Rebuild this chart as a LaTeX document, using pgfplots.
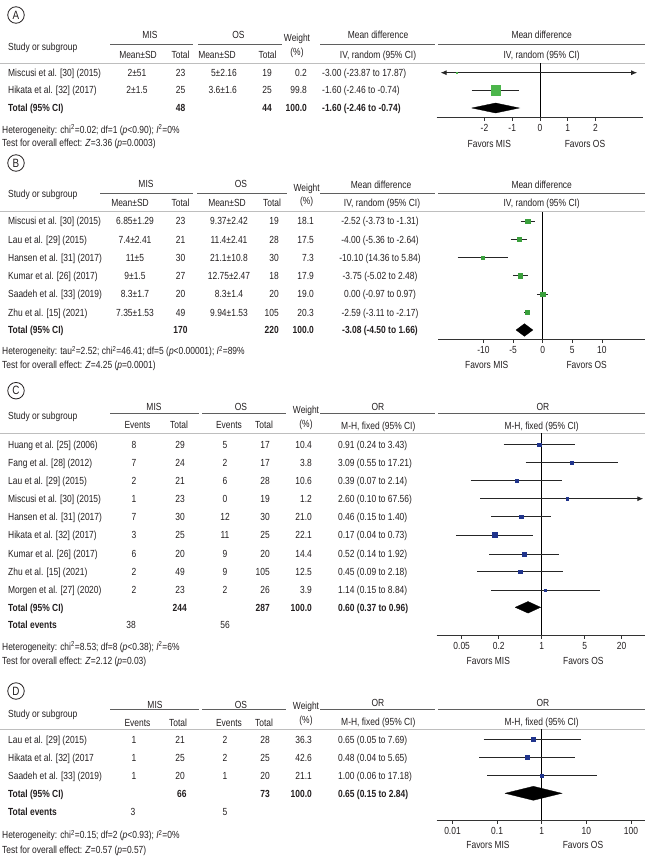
\documentclass[border=0pt]{standalone}
\usepackage{fontspec}
\setmainfont{Liberation Sans}[FakeStretch=0.82]
\usepackage{pgfplots}
\pgfplotsset{compat=1.18}
\usetikzlibrary{arrows.meta}
\definecolor{txt}{RGB}{35,31,32}
\definecolor{grA}{RGB}{76,181,75}
\definecolor{grB}{RGB}{58,160,60}
\definecolor{navy}{RGB}{32,52,140}
\definecolor{hl}{RGB}{95,95,95}
\definecolor{ll}{RGB}{190,190,190}
\newcommand\fs{\fontsize{10.3}{11.5}\selectfont}
\tikzset{tx/.style={font=\fs, text=txt, inner sep=0pt}}
\newcommand\TL[3]{\node[tx,anchor=base west] at (#1pt,{-(#2pt)-3.7pt}) {#3};}
\newcommand\TC[3]{\node[tx,anchor=base] at (#1pt,{-(#2pt)-3.7pt}) {#3};}
\newcommand\TR[3]{\node[tx,anchor=base east] at (#1pt,{-(#2pt)-3.7pt}) {#3};}
\newcommand\HL[3]{\draw[hl, line width=0.8pt] (#1pt,-#3pt) -- (#2pt,-#3pt);}
\newcommand\LL[1]{\draw[ll, line width=1pt] (0pt,-#1pt) -- (645pt,-#1pt);}
\newcommand\CIRC[2]{\node[draw=txt, circle, line width=0.8pt, minimum size=16.5pt, inner sep=0pt, text=txt, font=\fontsize{12}{12}\selectfont] at (16pt,-#1pt) {#2};}
\pgfplotsset{forest/.style={scale only axis, anchor=south west,
  axis x line*=bottom, axis y line=none,
  x axis line style={-, draw=black!80, line width=0.8pt},
  tick align=outside, major tick length=3.5pt,
  major tick style={black!80, line width=0.8pt}, clip=false,
  minor xtick={}, xminorticks=false, minor tick length=0pt,
  minor tick style={draw=none}, subtickwidth=0pt,
  xticklabel style={font=\fs, text=txt}},
  ci/.style={black!85, line width=0.9pt, mark=none},
  sq/.style={only marks, mark=square*, mark options={draw=#1, fill=#1}},
  dia/.style={fill=black, draw=black, mark=none, line width=0.3pt}}
\begin{document}
\begin{tikzpicture}
\path[use as bounding box] (0pt,0pt) rectangle (653pt,-856pt);
% ================= A =================
\CIRC{15}{A}
\TL{8}{46.7}{Study or subgroup}
\TC{150}{35}{MIS} \TC{238.5}{35}{OS}
\TC{297}{38.3}{Weight} \TC{297}{51.7}{(\%)}
\TC{138}{55}{Mean±SD} \TC{180.5}{55}{Total} \TC{217}{55}{Mean±SD} \TC{267.5}{55}{Total}
\TC{378}{35}{Mean difference} \TC{378}{55}{IV, random (95\% CI)}
\TC{541.7}{35}{Mean difference} \TC{541.7}{55}{IV, random (95\% CI)}
\HL{110}{193}{44} \HL{198}{282}{44} \HL{320}{435}{44} \HL{438}{645}{44}
\LL{63.3}
\TL{8}{72.7}{Miscusi et al. [30] (2015)} \TC{137}{72.7}{2±51} \TC{180.5}{72.7}{23} \TR{237}{72.7}{5±2.16} \TR{272}{72.7}{19} \TR{307}{72.7}{0.2} \TL{322}{72.7}{-3.00 (-23.87 to 17.87)}
\TL{8}{90.3}{Hikata et al. [32] (2017)} \TC{137}{90.3}{2±1.5} \TC{180.5}{90.3}{25} \TR{237}{90.3}{3.6±1.6} \TR{272}{90.3}{25} \TR{307}{90.3}{99.8} \TL{322}{90.3}{-1.60 (-2.46 to -0.74)}
\TL{8}{108}{\textbf{Total (95\% CI)}} \TC{180.5}{108}{\textbf{48}} \TR{272}{108}{\textbf{44}} \TR{307}{108}{\textbf{100.0}} \TL{322}{108}{\textbf{-1.60 (-2.46 to -0.74)}}
\TL{2}{129.5}{Heterogeneity: chi\textsuperscript{2}=0.02; df=1 (\textit{p}<0.90); \textit{I}\textsuperscript{2}=0\%}
\TL{2}{143}{Test for overall effect: \textit{Z}=3.36 (\textit{p}=0.0003)}
\TC{489.3}{143.3}{Favors MIS} \TC{585}{143.3}{Favors OS}
\begin{axis}[forest, at={(436.7pt,-117.3pt)}, width=206.6pt, height=54pt,
  xmin=-3.72, xmax=3.72, ymin=-117.3, ymax=-63.3,
  xtick={-2,-1,0,1,2}, xticklabels={-2,-1,0,1,2}]
\draw[black, line width=0.8pt] (axis cs:0,-117.3) -- (axis cs:0,-63.3);
\addplot[ci, {Latex[length=6pt,width=5pt]}-{Latex[length=6pt,width=5pt]}] coordinates {(-3.58,-72.7) (3.50,-72.7)};
\addplot[sq=grA, mark size=0.5] coordinates {(-3.00,-72.7)};
\addplot[ci] coordinates {(-2.46,-90.3) (-0.74,-90.3)};
\addplot[sq=grA, mark size=4.6] coordinates {(-1.60,-90.3)};
\addplot[dia] coordinates {(-2.46,-108) (-1.60,-103) (-0.74,-108) (-1.60,-113) (-2.46,-108)};
\end{axis}
% ================= B =================
\CIRC{163}{B}
\TL{8}{194}{Study or subgroup}
\TC{146}{184}{MIS} \TC{241}{184}{OS}
\TC{306.7}{187.3}{Weight} \TC{306.7}{200.7}{(\%)}
\TC{130}{202.3}{Mean±SD} \TC{180.5}{202.3}{Total} \TC{227}{202.3}{Mean±SD} \TC{272}{202.3}{Total}
\TC{381}{184.3}{Mean difference} \TC{382}{202.7}{IV, random (95\% CI)}
\TC{541.7}{184.3}{Mean difference} \TC{541.7}{202.7}{IV, random (95\% CI)}
\HL{100}{193}{193.3} \HL{197}{287}{193.3} \HL{320}{435}{193.3} \HL{438}{645}{193.3}
\LL{211.7}
\TL{8}{221}{Miscusi et al. [30] (2015)} \TC{135}{221}{6.85±1.29} \TC{180.5}{221}{23} \TC{229}{221}{9.37±2.42} \TR{279}{221}{19} \TR{314}{221}{18.1} \TC{380}{221}{-2.52 (-3.73 to -1.31)}
\TL{8}{239.3}{Lau et al. [29] (2015)} \TC{135}{239.3}{7.4±2.41} \TC{180.5}{239.3}{21} \TC{229}{239.3}{11.4±2.41} \TR{279}{239.3}{28} \TR{314}{239.3}{17.5} \TC{380}{239.3}{-4.00 (-5.36 to -2.64)}
\TL{8}{257.7}{Hansen et al. [31] (2017)} \TC{135}{257.7}{11±5} \TC{180.5}{257.7}{30} \TC{229}{257.7}{21.1±10.8} \TR{279}{257.7}{30} \TR{314}{257.7}{7.3} \TC{380}{257.7}{-10.10 (14.36 to 5.84)}
\TL{8}{275.7}{Kumar et al. [26] (2017)} \TC{135}{275.7}{9±1.5} \TC{180.5}{275.7}{27} \TC{229}{275.7}{12.75±2.47} \TR{279}{275.7}{18} \TR{314}{275.7}{17.9} \TC{380}{275.7}{-3.75 (-5.02 to 2.48)}
\TL{8}{294}{Saadeh et al. [33] (2019)} \TC{135}{294}{8.3±1.7} \TC{180.5}{294}{20} \TC{229}{294}{8.3±1.4} \TR{279}{294}{20} \TR{314}{294}{19.0} \TC{380}{294}{0.00 (-0.97 to 0.97)}
\TL{8}{312.3}{Zhu et al. [15] (2021)} \TC{135}{312.3}{7.35±1.53} \TC{180.5}{312.3}{49} \TC{229}{312.3}{9.94±1.53} \TR{279}{312.3}{105} \TR{314}{312.3}{20.3} \TC{380}{312.3}{-2.59 (-3.11 to -2.17)}
\TL{8}{330}{\textbf{Total (95\% CI)}} \TC{180.5}{330}{\textbf{170}} \TR{279}{330}{\textbf{220}} \TR{314}{330}{\textbf{100.0}} \TC{380}{330}{\textbf{-3.08 (-4.50 to 1.66)}}
\TL{2}{351}{Heterogeneity: tau\textsuperscript{2}=2.52; chi\textsuperscript{2}=46.41; df=5 (\textit{p}<0.00001); \textit{I}\textsuperscript{2}=89\%}
\TL{2}{364.5}{Test for overall effect: \textit{Z}=4.25 (\textit{p}=0.0001)}
\TC{486.7}{364.3}{Favors MIS} \TC{586.7}{364.3}{Favors OS}
\begin{axis}[forest, at={(438.3pt,-339.3pt)}, width=206.7pt, height=127.6pt,
  xmin=-17.63, xmax=17.28, ymin=-339.3, ymax=-211.7,
  xtick={-10,-5,0,5,10}, xticklabels={-10,-5,0,5,10}]
\draw[black, line width=0.8pt] (axis cs:0,-339.3) -- (axis cs:0,-211.7);
\addplot[ci] coordinates {(-3.73,-221) (-1.31,-221)};
\addplot[sq=grB, mark size=2.1] coordinates {(-2.52,-221)};
\addplot[ci] coordinates {(-5.36,-239.3) (-2.64,-239.3)};
\addplot[sq=grB, mark size=2.1] coordinates {(-4.00,-239.3)};
\addplot[ci] coordinates {(-14.36,-257.7) (-5.84,-257.7)};
\addplot[sq=grB, mark size=1.2] coordinates {(-10.10,-257.7)};
\addplot[ci] coordinates {(-5.02,-275.7) (-2.48,-275.7)};
\addplot[sq=grB, mark size=2.1] coordinates {(-3.75,-275.7)};
\addplot[ci] coordinates {(-0.97,-294) (0.97,-294)};
\addplot[sq=grB, mark size=2.2] coordinates {(0.00,-294)};
\addplot[ci] coordinates {(-3.11,-312.3) (-2.17,-312.3)};
\addplot[sq=grB, mark size=2.2] coordinates {(-2.59,-312.3)};
\addplot[dia] coordinates {(-4.50,-330) (-3.08,-323.7) (-1.66,-330) (-3.08,-336.3) (-4.50,-330)};
\end{axis}
% ================= C =================
\CIRC{390.7}{C}
\TL{8}{415.7}{Study or subgroup}
\TC{154}{406.7}{MIS} \TC{241}{406.7}{OS}
\TC{306}{410}{Weight} \TC{306}{424}{(\%)}
\TC{137.5}{425}{Events} \TC{179}{425}{Total} \TC{229}{425}{Events} \TC{264}{425}{Total}
\TC{378}{406.7}{OR} \TC{378.3}{426}{M-H, fixed (95\% CI)}
\TC{543}{406.7}{OR} \TC{541.7}{426}{M-H, fixed (95\% CI)}
\HL{110}{199}{413.3} \HL{202}{286}{413.3} \HL{320}{435}{413.3} \HL{438}{645}{413.3}
\LL{433.3}
\TL{8}{444.3}{Huang et al. [25] (2006)} \TC{134}{444.3}{8} \TR{185}{444.3}{29} \TC{225}{444.3}{5} \TR{270}{444.3}{17} \TR{312}{444.3}{10.4} \TL{338}{444.3}{0.91 (0.24 to 3.43)}
\TL{8}{462.7}{Fang et al. [28] (2012)} \TC{134}{462.7}{7} \TR{185}{462.7}{24} \TC{225}{462.7}{2} \TR{270}{462.7}{17} \TR{312}{462.7}{3.8} \TL{338}{462.7}{3.09 (0.55 to 17.21)}
\TL{8}{480.7}{Lau et al. [29] (2015)} \TC{134}{480.7}{2} \TR{185}{480.7}{21} \TC{225}{480.7}{6} \TR{270}{480.7}{28} \TR{312}{480.7}{10.6} \TL{338}{480.7}{0.39 (0.07 to 2.14)}
\TL{8}{498.7}{Miscusi et al. [30] (2015)} \TC{134}{498.7}{1} \TR{185}{498.7}{23} \TC{225}{498.7}{0} \TR{270}{498.7}{19} \TR{312}{498.7}{1.2} \TL{338}{498.7}{2.60 (0.10 to 67.56)}
\TL{8}{516.7}{Hansen et al. [31] (2017)} \TC{134}{516.7}{7} \TR{185}{516.7}{30} \TC{225}{516.7}{12} \TR{270}{516.7}{30} \TR{312}{516.7}{21.0} \TL{338}{516.7}{0.46 (0.15 to 1.40)}
\TL{8}{535}{Hikata et al. [32] (2017)} \TC{134}{535}{3} \TR{185}{535}{25} \TC{225}{535}{11} \TR{270}{535}{25} \TR{312}{535}{22.1} \TL{338}{535}{0.17 (0.04 to 0.73)}
\TL{8}{554}{Kumar et al. [26] (2017)} \TC{134}{554}{6} \TR{185}{554}{20} \TC{225}{554}{9} \TR{270}{554}{20} \TR{312}{554}{14.4} \TL{338}{554}{0.52 (0.14 to 1.92)}
\TL{8}{571.7}{Zhu et al. [15] (2021)} \TC{134}{571.7}{2} \TR{185}{571.7}{49} \TC{225}{571.7}{9} \TR{270}{571.7}{105} \TR{312}{571.7}{12.5} \TL{338}{571.7}{0.45 (0.09 to 2.18)}
\TL{8}{590}{Morgen et al. [27] (2020)} \TC{134}{590}{2} \TR{185}{590}{23} \TC{225}{590}{2} \TR{270}{590}{26} \TR{312}{590}{3.9} \TL{338}{590}{1.14 (0.15 to 8.84)}
\TL{8}{607.3}{\textbf{Total (95\% CI)}} \TR{187}{607.3}{\textbf{244}} \TR{270}{607.3}{\textbf{287}} \TR{312}{607.3}{\textbf{100.0}} \TL{338}{607.3}{\textbf{0.60 (0.37 to 0.96)}}
\TL{8}{625}{\textbf{Total events}} \TC{131}{625}{38} \TC{225}{625}{56}
\TL{2}{646.5}{Heterogeneity: chi\textsuperscript{2}=8.53; df=8 (\textit{p}<0.38); \textit{I}\textsuperscript{2}=6\%}
\TL{2}{661}{Test for overall effect: \textit{Z}=2.12 (\textit{p}=0.03)}
\TC{488.3}{660.7}{Favors MIS} \TC{583.3}{660.7}{Favors OS}
\begin{axis}[forest, at={(436.7pt,-635pt)}, width=208.3pt, height=201.7pt,
  xmode=log, xmin=0.0196, xmax=47.9, ymin=-635, ymax=-433.3,
  xtick={0.05,0.2,1,5,20}, xticklabels={0.05,0.2,1,5,20}]
\draw[black, line width=0.8pt] (axis cs:1,-635) -- (axis cs:1,-433.3);
\addplot[ci] coordinates {(0.24,-444.3) (3.43,-444.3)};
\addplot[sq=navy, mark size=1.6] coordinates {(0.91,-444.3)};
\addplot[ci] coordinates {(0.55,-462.7) (17.21,-462.7)};
\addplot[sq=navy, mark size=1.5] coordinates {(3.09,-462.7)};
\addplot[ci] coordinates {(0.07,-480.7) (2.14,-480.7)};
\addplot[sq=navy, mark size=1.6] coordinates {(0.39,-480.7)};
\addplot[ci, -{Latex[length=6pt,width=5pt]}] coordinates {(0.10,-498.7) (45,-498.7)};
\addplot[sq=navy, mark size=1.3] coordinates {(2.60,-498.7)};
\addplot[ci] coordinates {(0.15,-516.7) (1.40,-516.7)};
\addplot[sq=navy, mark size=1.9] coordinates {(0.46,-516.7)};
\addplot[ci] coordinates {(0.04,-535) (0.73,-535)};
\addplot[sq=navy, mark size=2.4] coordinates {(0.17,-535)};
\addplot[ci] coordinates {(0.14,-554) (1.92,-554)};
\addplot[sq=navy, mark size=1.9] coordinates {(0.52,-554)};
\addplot[ci] coordinates {(0.09,-571.7) (2.18,-571.7)};
\addplot[sq=navy, mark size=1.8] coordinates {(0.45,-571.7)};
\addplot[ci] coordinates {(0.15,-590) (8.84,-590)};
\addplot[sq=navy, mark size=0.7] coordinates {(1.14,-590)};
\addplot[dia] coordinates {(0.37,-607.3) (0.60,-601.5) (0.96,-607.3) (0.60,-613.1) (0.37,-607.3)};
\end{axis}
% ================= D =================
\CIRC{691}{D}
\TL{8}{713.7}{Study or subgroup}
\TC{155}{704.3}{MIS} \TC{241}{704.3}{OS}
\TC{306}{705.7}{Weight} \TC{306}{720}{(\%)}
\TC{137.5}{722.3}{Events} \TC{178}{722.3}{Total} \TC{229}{722.3}{Events} \TC{264}{722.3}{Total}
\TC{378}{702.7}{OR} \TC{378.3}{721.7}{M-H, fixed (95\% CI)}
\TC{543}{702.7}{OR} \TC{541.7}{721.7}{M-H, fixed (95\% CI)}
\HL{110}{199}{709} \HL{202}{286}{709} \HL{320}{435}{709} \HL{438}{645}{709}
\LL{729.3}
\TL{8}{739.3}{Lau et al. [29] (2015)} \TC{134}{739.3}{1} \TR{185}{739.3}{21} \TC{225}{739.3}{2} \TR{270}{739.3}{28} \TR{312}{739.3}{36.3} \TL{338}{739.3}{0.65 (0.05 to 7.69)}
\TL{8}{757.3}{Hikata et al. [32] (2017} \TC{134}{757.3}{1} \TR{185}{757.3}{25} \TC{225}{757.3}{2} \TR{270}{757.3}{25} \TR{312}{757.3}{42.6} \TL{338}{757.3}{0.48 (0.04 to 5.65)}
\TL{8}{775.7}{Saadeh et al. [33] (2019)} \TC{134}{775.7}{1} \TR{185}{775.7}{20} \TC{225}{775.7}{1} \TR{270}{775.7}{20} \TR{312}{775.7}{21.1} \TL{338}{775.7}{1.00 (0.06 to 17.18)}
\TL{8}{793.3}{\textbf{Total (95\% CI)}} \TR{186.7}{793.3}{\textbf{66}} \TR{270}{793.3}{\textbf{73}} \TR{312}{793.3}{\textbf{100.0}} \TL{338}{793.3}{\textbf{0.65 (0.15 to 2.84)}}
\TL{8}{811.7}{\textbf{Total events}} \TC{133}{811.7}{3} \TC{225}{811.7}{5}
\TL{2}{835}{Heterogeneity: chi\textsuperscript{2}=0.15; df=2 (\textit{p}<0.93); \textit{I}\textsuperscript{2}=0\%}
\TL{2}{849.3}{Test for overall effect: \textit{Z}=0.57 (\textit{p}=0.57)}
\TC{488}{845}{Favors MIS} \TC{583}{845}{Favors OS}
\begin{axis}[forest, at={(436.7pt,-820pt)}, width=208.3pt, height=90.7pt,
  xmode=log, xmin=0.00442, xmax=207, ymin=-820, ymax=-729.3,
  xtick={0.01,0.1,1,10,100}, xticklabels={0.01,0.1,1,10,100}]
\draw[black, line width=0.8pt] (axis cs:1,-820) -- (axis cs:1,-729.3);
\addplot[ci] coordinates {(0.05,-739.3) (7.69,-739.3)};
\addplot[sq=navy, mark size=1.8] coordinates {(0.65,-739.3)};
\addplot[ci] coordinates {(0.04,-757.3) (5.65,-757.3)};
\addplot[sq=navy, mark size=2.1] coordinates {(0.48,-757.3)};
\addplot[ci] coordinates {(0.06,-775.7) (17.18,-775.7)};
\addplot[sq=navy, mark size=1.6] coordinates {(1.00,-775.7)};
\addplot[dia] coordinates {(0.15,-793.3) (0.65,-786.3) (2.84,-793.3) (0.65,-800.3) (0.15,-793.3)};
\end{axis}
\end{tikzpicture}
\end{document}
